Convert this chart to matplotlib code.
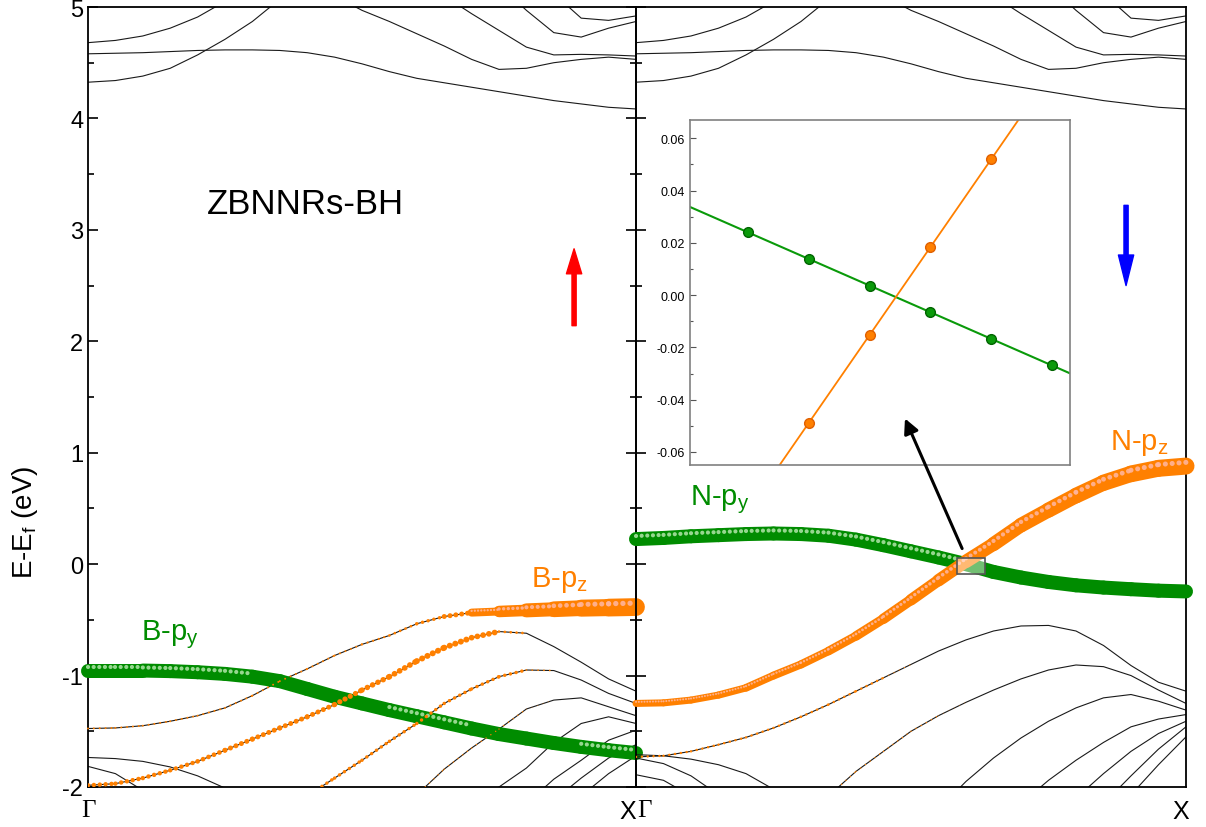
import numpy as np
import matplotlib.pyplot as plt
from matplotlib.patches import Rectangle, FancyArrowPatch
from matplotlib.ticker import MultipleLocator, FormatStrFormatter

plt.rcParams['font.family'] = ['Liberation Sans', 'DejaVu Sans']
plt.rcParams['mathtext.default'] = 'regular'
plt.rcParams['axes.unicode_minus'] = False

nan = np.nan
GREEN = '#008c00'
ORANGE = '#ff8000'
LIGHT = {GREEN: '#a8e0a0', ORANGE: '#ffb49a'}

# k path Gamma -> X, 21 samples in each panel
k = np.arange(21) / 20.0

# conduction bands (same in both spin channels)
cb_1 = [4.325, 4.34, 4.38, 4.45, 4.57, 4.71, 4.87, 5.07, 5.3] + [nan] * 12
cb_2 = [4.58, 4.585, 4.59, 4.6, 4.61, 4.615, 4.615, 4.61, 4.59, 4.55, 4.49,
        4.42, 4.36, 4.32, 4.28, 4.24, 4.2, 4.16, 4.13, 4.1, 4.085]
cb_3 = [4.68, 4.70, 4.74, 4.81, 4.91, 5.05, 5.2] + [nan] * 14
cb_4 = [nan] * 9 + [5.1, 4.97, 4.87, 4.76, 4.65, 4.53, 4.44, 4.45, 4.5, 4.53, 4.55, 4.53]
cb_5 = [nan] * 13 + [5.1, 4.94, 4.79, 4.64, 4.57, 4.575, 4.57, 4.56]
cb_6 = [nan] * 15 + [5.2, 4.97, 4.77, 4.73, 4.81, 4.87]
cb_7 = [nan] * 17 + [5.12, 4.9, 4.88, 4.92]

# spin up (B edge)
up_py = [-0.955, -0.955, -0.955, -0.96, -0.97, -0.985, -1.01, -1.05, -1.12, -1.19, -1.25,
         -1.31, -1.365, -1.42, -1.475, -1.525, -1.565, -1.605, -1.64, -1.67, -1.695]
up_a = [-1.475, -1.47, -1.45, -1.41, -1.36, -1.29, -1.18, -1.05, -0.94, -0.82, -0.72,
        -0.64, -0.535, -0.47, -0.435, -0.425, -0.415, -0.405, -0.395, -0.39, -0.385]
up_b = [-1.985, -1.97, -1.92, -1.85, -1.77, -1.67, -1.57, -1.47, -1.37, -1.26, -1.13,
        -1.01, -0.87, -0.75, -0.66, -0.605, -0.62, -0.74, -0.88, -1.03, -1.14]
up_c = [nan] * 8 + [-2.08, -1.92, -1.76, -1.59, -1.43, -1.25, -1.12, -1.01, -0.95,
                    -0.955, -1.04, -1.16, -1.25]
up_d = [nan] * 12 + [-2.07, -1.84, -1.65, -1.48, -1.3, -1.22, -1.2, -1.28, -1.36]
up_e = [nan] * 14 + [-2.2, -2.0, -1.83, -1.6, -1.43, -1.37, -1.43]
up_f = [nan] * 16 + [-2.15, -1.93, -1.76, -1.58, -1.49]
up_g = [nan] * 17 + [-2.12, -1.92, -1.74, -1.62]
up_h = [nan] * 18 + [-2.08, -1.88, -1.72]
up_l1 = [-1.735, -1.745, -1.77, -1.82, -1.9, -2.01, -2.15] + [nan] * 14
up_l2 = [-1.815, -1.88, -2.03, -2.25] + [nan] * 17

# projection weights (dot size in px) and where the sphere highlights show
up_py_w = [14] * 21
up_py_hl = [1] * 7 + [0] * 4 + [1] * 4 + [0] * 3 + [1] * 3
up_a_w = [2, 2, 2, 2, 2, 2, 2, 2, 2, 2, 2, 2.5, 3, 4, 6, 10, 13, 15, 16.5, 17.5, 18]
up_a_hl = [1] * 21
up_b_w = [4.5, 4.5, 4.5, 4.5, 4.5, 5, 5, 5, 5, 5, 5.5, 5.5, 6, 6, 6, 5.5, 0, 0, 0, 0, 0]
up_c_w = [0] * 8 + [3.5] * 9 + [0] * 4
up_d_w = [0] * 12 + [1.5] * 5 + [0] * 4

# spin down (N edge)
dn_py = [0.225, 0.235, 0.25, 0.26, 0.27, 0.275, 0.27, 0.255, 0.22, 0.17, 0.115,
         0.06, 0.0, -0.07, -0.12, -0.16, -0.19, -0.21, -0.225, -0.238, -0.245]
dn_pz = [-1.25, -1.245, -1.22, -1.175, -1.11, -1.0, -0.9, -0.78, -0.645, -0.49, -0.32,
         -0.145, 0.025, 0.18, 0.35, 0.485, 0.615, 0.73, 0.81, 0.86, 0.88]
dn_a = [-1.73, -1.72, -1.68, -1.62, -1.555, -1.47, -1.37, -1.26, -1.14, -1.02, -0.9,
        -0.78, -0.68, -0.6, -0.555, -0.55, -0.6, -0.73, -0.91, -1.06, -1.14]
dn_b = [nan] * 7 + [-2.08, -1.86, -1.68, -1.5, -1.36, -1.24, -1.13, -1.03, -0.95,
                    -0.905, -0.92, -1.0, -1.13, -1.25]
dn_c = [nan] * 11 + [-2.2, -1.95, -1.74, -1.56, -1.41, -1.29, -1.2, -1.17, -1.23, -1.31]
dn_d = [nan] * 14 + [-2.15, -1.94, -1.76, -1.6, -1.46, -1.39, -1.35]
dn_e = [nan] * 16 + [-2.1, -1.88, -1.68, -1.52, -1.41]
dn_f = [nan] * 17 + [-2.15, -1.9, -1.66, -1.46]
dn_g = [nan] * 18 + [-2.07, -1.8, -1.55]
dn_l1 = [-1.71, -1.72, -1.75, -1.8, -1.88, -2.02, -2.2] + [nan] * 14
dn_l2 = [-1.74, -1.79, -1.9, -2.07] + [nan] * 17
dn_l3 = [-1.89, -1.94, -2.08] + [nan] * 18

dn_py_w = [14] * 21
dn_py_hl = [1] * 13 + [0] * 8
dn_pz_w = [7, 7, 7, 7, 7.5, 8, 8, 8.5, 9, 10, 11, 12, 13, 14, 14.5, 15, 15.5, 16, 16.5, 17, 17]
dn_pz_hl = [1] * 21
dn_a_w = [2.5] * 10 + [0] * 11
dn_b_w = [0] * 7 + [1.5] * 5 + [0] * 9

# inset: zoom on the crossing
ins_x = [0, 1, 2, 3, 4, 5]
ins_green = [0.024, 0.0138, 0.0036, -0.0066, -0.0167, -0.0269]
ins_orange_x = [1, 2, 3, 4]
ins_orange = [-0.0489, -0.0154, 0.0183, 0.052]
ins_green_line_x = [-1, 6]
ins_green_line = [0.0342, -0.0371]
ins_orange_line_x = [0, 5]
ins_orange_line = [-0.0825, 0.0856]


def draw_proj(ax, y, w, color, z, clip=True, hl=None):
    y = np.asarray(y, float)
    w = np.asarray(w, float)
    for i in range(len(k) - 1):
        if np.isnan(y[i]) or np.isnan(y[i + 1]):
            continue
        wp = (w[i] + w[i + 1]) / 2
        lw = 0.72 * wp
        if lw <= 0:
            continue
        if wp < 7:
            ax.plot(k[i:i + 2], y[i:i + 2], color=color, lw=lw,
                    ls=(0, (0.01, 4.2 / lw)), dash_capstyle='round',
                    zorder=z, clip_on=clip)
        else:
            ax.plot(k[i:i + 2], y[i:i + 2], color=color, lw=lw,
                    solid_capstyle='round', zorder=z, clip_on=clip)
            if hl is not None and hl[i] and hl[i + 1]:
                # little shiny spots on the spheres
                hlw = 0.3 * lw
                dy = 0.22 * wp / 111.5
                ax.plot(k[i:i + 2], y[i:i + 2] + dy, color=LIGHT[color], lw=hlw,
                        ls=(0, (0.01, 0.4 * lw / hlw)), dash_capstyle='round',
                        alpha=0.9, zorder=z + 0.1, clip_on=clip)


fig = plt.figure(figsize=(12.06, 8.28), dpi=100)
ax1 = fig.add_axes([88 / 1206, 40 / 828, 548 / 1206, 780 / 828])
ax2 = fig.add_axes([636 / 1206, 40 / 828, 550 / 1206, 780 / 828])
ax2.patch.set_alpha(0)

cbands = [cb_1, cb_2, cb_3, cb_4, cb_5, cb_6, cb_7]
for ax, bands in [(ax1, cbands + [up_py, up_a, up_b, up_c, up_d, up_e, up_f, up_g, up_h, up_l1, up_l2]),
                  (ax2, cbands + [dn_py, dn_pz, dn_a, dn_b, dn_c, dn_d, dn_e, dn_f, dn_g, dn_l1, dn_l2, dn_l3])]:
    for b in bands:
        ax.plot(k, b, color='#1a1a1a', lw=0.8, zorder=2)

draw_proj(ax1, up_py, up_py_w, GREEN, 3, clip=False, hl=up_py_hl)
draw_proj(ax1, up_a, up_a_w, ORANGE, 4, clip=False, hl=up_a_hl)
draw_proj(ax1, up_b, up_b_w, ORANGE, 4)
draw_proj(ax1, up_c, up_c_w, ORANGE, 4)
draw_proj(ax1, up_d, up_d_w, ORANGE, 4)

draw_proj(ax2, dn_py, dn_py_w, GREEN, 3, clip=False, hl=dn_py_hl)
draw_proj(ax2, dn_pz, dn_pz_w, ORANGE, 4, clip=False, hl=dn_pz_hl)
draw_proj(ax2, dn_a, dn_a_w, ORANGE, 4)
draw_proj(ax2, dn_b, dn_b_w, ORANGE, 4)

for ax in (ax1, ax2):
    ax.set_xlim(0, 1)
    ax.set_ylim(-2, 5)
    ax.set_xticks([])
    ax.yaxis.set_major_locator(MultipleLocator(1))
    ax.yaxis.set_minor_locator(MultipleLocator(0.5))
    for s in ax.spines.values():
        s.set_linewidth(1.3)

ax1.tick_params(axis='y', which='both', direction='in', left=True, right=True,
                labelsize=17, width=1.2)
ax1.tick_params(axis='y', which='major', length=7)
ax1.tick_params(axis='y', which='minor', length=4)
ax2.tick_params(axis='y', which='both', direction='in', left=True, right=False,
                labelleft=False, width=1.2)
ax2.tick_params(axis='y', which='major', length=7)
ax2.tick_params(axis='y', which='minor', length=4)

ax1.set_ylabel('E-E$_f$ (eV)', fontsize=20)
ax1.yaxis.set_label_coords(-0.088, 0.34)

# k-point labels
ax1.text(0, -0.015, 'Γ', transform=ax1.transAxes, ha='center', va='top',
         fontsize=18, family='Liberation Serif')
ax1.text(1, -0.015, 'X', transform=ax1.transAxes, ha='right', va='top', fontsize=18)
ax2.text(0.003, -0.015, 'Γ', transform=ax2.transAxes, ha='left', va='top',
         fontsize=18, family='Liberation Serif')
ax2.text(0.99, -0.015, 'X', transform=ax2.transAxes, ha='center', va='top', fontsize=18)

ax1.text(0.396, 3.24, 'ZBNNRs-BH', fontsize=25, ha='center', va='center')
ax1.text(0.15, -0.62, 'B-p$_y$', color=GREEN, fontsize=21, ha='center', va='center')
ax1.text(0.86, -0.13, 'B-p$_z$', color=ORANGE, fontsize=21, ha='center', va='center')
ax2.text(0.153, 0.59, 'N-p$_y$', color=GREEN, fontsize=21, ha='center', va='center')
ax2.text(0.915, 1.10, 'N-p$_z$', color=ORANGE, fontsize=21, ha='center', va='center')

# spin arrows
ax1.annotate('', xy=(0.887, 2.83), xytext=(0.887, 2.14),
             arrowprops=dict(facecolor='red', edgecolor='red', width=3,
                             headwidth=11, headlength=18, shrink=0))
ax2.annotate('', xy=(0.891, 2.50), xytext=(0.891, 3.22),
             arrowprops=dict(facecolor='blue', edgecolor='blue', width=3,
                             headwidth=11, headlength=22, shrink=0))

# highlight box around the crossing
ax2.add_patch(Rectangle((0.584, -0.09), 0.051, 0.144, facecolor=(1, 1, 1, 0.45),
                        edgecolor='#555555', lw=1.2, zorder=6))

# inset
axi = fig.add_axes([690 / 1206, 362 / 828, 380 / 1206, 345 / 828])
axi.plot(ins_green_line_x, ins_green_line, color='#0a9a0a', lw=1.5, zorder=2)
axi.plot(ins_orange_line_x, ins_orange_line, color=ORANGE, lw=1.3, zorder=2)
axi.plot(ins_x, ins_green, 'o', color='#0a9a0a', mec='#006400', ms=7, zorder=3)
axi.plot(ins_orange_x, ins_orange, 'o', color=ORANGE, mec='#e06000', ms=7, zorder=3)
axi.set_xlim(-0.954, 5.296)
axi.set_ylim(-0.065, 0.067)
axi.set_xticks([])
axi.yaxis.set_major_locator(MultipleLocator(0.02))
axi.yaxis.set_minor_locator(MultipleLocator(0.01))
axi.yaxis.set_major_formatter(FormatStrFormatter('%.2f'))
axi.tick_params(axis='y', which='both', direction='in', labelsize=9, width=0.8,
                color='#555555')
axi.tick_params(axis='y', which='major', length=4)
axi.tick_params(axis='y', which='minor', length=2)
for s in axi.spines.values():
    s.set_color('#808080')
    s.set_linewidth(1.2)

fig.add_artist(FancyArrowPatch((0.595, 0.117), (0.487, 1.33), transform=ax2.transData,
                               arrowstyle='-|>', mutation_scale=22, lw=2.2, color='black'))

fig.savefig('out.png', dpi=100)
